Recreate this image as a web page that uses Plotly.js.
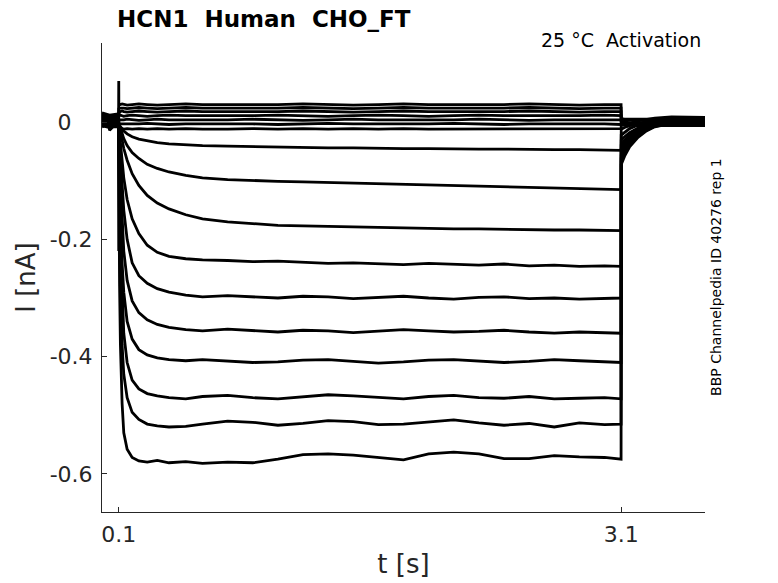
<!DOCTYPE html>
<html><head><meta charset="utf-8">
<script src="https://cdn.plot.ly/plotly-3.0.1.min.js"></script>
<style>html,body{margin:0;padding:0;background:#fff}</style>
</head><body><div id="chart" style="width:778px;height:583px"></div>
<script>
// time points (s)
const t = [0, 0.04, 0.045, 0.099, 0.1, 0.1005, 0.105, 0.11, 0.12, 0.13, 0.15, 0.18, 0.22, 0.27, 0.33, 0.4, 0.5, 0.6, 0.75, 0.9, 1.05, 1.2, 1.35, 1.5, 1.65, 1.8, 1.95, 2.1, 2.25, 2.4, 2.55, 2.7, 2.85, 3.0, 3.099, 3.1, 3.12, 3.15, 3.2, 3.25, 3.3, 3.4, 3.6];

// currents (nA), one sweep each
const tr1 = [0.003, 0.001, -0.014, 0.002,
 -0.05, -0.15, -0.28, -0.38, -0.48, -0.53,
 -0.558, -0.572, -0.578, -0.580, -0.577,
 -0.581, -0.579, -0.582, -0.580, -0.581,
 -0.575, -0.567, -0.566, -0.568, -0.572,
 -0.576, -0.566, -0.563, -0.566, -0.574,
 -0.574, -0.569, -0.571, -0.572, -0.575,
 -0.072, -0.058, -0.042, -0.026, -0.015,
 -0.008, -0.002, 0.001];
const tr2 = [0.001, -0.002, -0.004, 0.0,
 -0.03, -0.1, -0.2, -0.28, -0.38, -0.43,
 -0.47, -0.495, -0.507, -0.515, -0.518,
 -0.520, -0.519, -0.515, -0.510, -0.512,
 -0.517, -0.514, -0.509, -0.511, -0.516,
 -0.515, -0.512, -0.508, -0.513, -0.517,
 -0.514, -0.520, -0.513, -0.516, -0.515,
 -0.066, -0.053, -0.039, -0.024, -0.014,
 -0.007, -0.002, 0.0];
const tr3 = [-0.002, 0.003, 0.0, -0.003,
 -0.02, -0.07, -0.13, -0.2, -0.3, -0.36,
 -0.41, -0.44, -0.455, -0.463, -0.467,
 -0.470, -0.472, -0.468, -0.466, -0.470,
 -0.472, -0.468, -0.465, -0.467, -0.470,
 -0.472, -0.468, -0.466, -0.470, -0.471,
 -0.468, -0.472, -0.471, -0.470, -0.472,
 -0.061, -0.049, -0.036, -0.022, -0.013,
 -0.006, -0.001, 0.002];
const tr4 = [0.004, 0.0, -0.002, 0.002,
 -0.015, -0.05, -0.09, -0.15, -0.24, -0.29,
 -0.34, -0.37, -0.388, -0.397, -0.402,
 -0.405, -0.407, -0.405, -0.408, -0.410,
 -0.409, -0.406, -0.405, -0.408, -0.411,
 -0.409, -0.406, -0.405, -0.408, -0.410,
 -0.408, -0.405, -0.407, -0.409, -0.410,
 -0.056, -0.045, -0.033, -0.020, -0.011,
 -0.005, 0.0, -0.001];
const tr5 = [-0.004, 0.002, -0.003, 0.001,
 -0.01, -0.03, -0.06, -0.1, -0.17, -0.22,
 -0.27, -0.305, -0.325, -0.337, -0.345,
 -0.350, -0.354, -0.356, -0.353, -0.356,
 -0.358, -0.355, -0.356, -0.359, -0.357,
 -0.354, -0.356, -0.358, -0.357, -0.355,
 -0.358, -0.360, -0.358, -0.359, -0.360,
 -0.051, -0.041, -0.030, -0.018, -0.010,
 -0.004, 0.001, 0.003];
const tr6 = [0.006, -0.001, 0.001, 0.004,
 -0.008, -0.02, -0.035, -0.06, -0.11, -0.15,
 -0.20, -0.24, -0.262, -0.275, -0.284,
 -0.290, -0.295, -0.298, -0.296, -0.298,
 -0.300, -0.297, -0.298, -0.301, -0.299,
 -0.297, -0.300, -0.302, -0.299, -0.298,
 -0.301, -0.300, -0.302, -0.301, -0.300,
 -0.045, -0.036, -0.026, -0.015, -0.008,
 -0.003, 0.002, 0.001];
const tr7 = [-0.006, 0.001, -0.002, -0.004,
 -0.005, -0.01, -0.015, -0.035, -0.07, -0.095,
 -0.132, -0.165, -0.19, -0.21, -0.222,
 -0.229, -0.233, -0.235, -0.236, -0.238,
 -0.237, -0.239, -0.241, -0.240, -0.242,
 -0.243, -0.241, -0.243, -0.244, -0.242,
 -0.245, -0.244, -0.246, -0.245, -0.246,
 -0.039, -0.031, -0.022, -0.013, -0.006,
 -0.002, 0.003, 0.0];
const tr8 = [0.008, 0.004, 0.002, 0.006,
 -0.003, -0.005, -0.008, -0.015, -0.03, -0.045,
 -0.065, -0.088, -0.108, -0.125, -0.138,
 -0.148, -0.158, -0.165, -0.170, -0.173,
 -0.176, -0.177, -0.178, -0.179, -0.180,
 -0.180, -0.181, -0.182, -0.182, -0.183,
 -0.183, -0.184, -0.184, -0.185, -0.185,
 -0.031, -0.025, -0.018, -0.010, -0.004,
 0.0, 0.004, 0.002];
const tr9 = [-0.008, -0.004, -0.005, -0.006,
 -0.002, -0.004, -0.006, -0.01, -0.02, -0.028,
 -0.04, -0.052, -0.062, -0.072, -0.079,
 -0.085, -0.091, -0.095, -0.098, -0.100,
 -0.101, -0.102, -0.103, -0.104, -0.105,
 -0.106, -0.107, -0.108, -0.109, -0.110,
 -0.111, -0.112, -0.113, -0.114, -0.115,
 -0.022, -0.017, -0.011, -0.005, -0.001,
 0.002, 0.005, 0.004];
const tr10 = [0.010, 0.006, 0.005, 0.008,
 -0.22, -0.004, -0.006, -0.008, -0.012, -0.015,
 -0.020, -0.025, -0.029, -0.032, -0.035,
 -0.037, -0.039, -0.040, -0.041, -0.042,
 -0.043, -0.043, -0.044, -0.044, -0.045,
 -0.045, -0.045, -0.046, -0.046, -0.046,
 -0.047, -0.047, -0.047, -0.047, -0.048,
 -0.012, -0.009, -0.006, -0.002, 0.001,
 0.004, 0.007, 0.006];
const tr11 = [0.012, 0.008, 0.007, 0.010,
 -0.006, -0.009, -0.010, -0.011, -0.011, -0.012,
 -0.011, -0.012, -0.011, -0.012, -0.011,
 -0.012, -0.011, -0.012, -0.012, -0.011,
 -0.012, -0.011, -0.012, -0.011, -0.012,
 -0.011, -0.012, -0.012, -0.011, -0.012,
 -0.011, -0.012, -0.011, -0.012, -0.011,
 -0.006, -0.004, -0.002, 0.002, 0.005,
 0.007, 0.009, 0.008];
const tr12 = [0.014, 0.011, 0.010, 0.012,
 0.0, -0.002, -0.003, -0.003, -0.004, -0.003,
 -0.003, -0.004, -0.003, -0.002, -0.003,
 -0.004, -0.003, -0.003, -0.002, -0.003,
 -0.004, -0.003, -0.002, -0.003, -0.003,
 -0.004, -0.003, -0.002, -0.003, -0.004,
 -0.003, -0.003, -0.002, -0.003, -0.004,
 -0.004, -0.005, -0.005, -0.006, -0.006,
 -0.006, -0.006, -0.006];
const tr13 = [-0.006, -0.009, -0.008, -0.008,
 0.003, 0.004, 0.004, 0.004, 0.003, 0.004,
 0.005, 0.004, 0.003, 0.004, 0.005,
 0.004, 0.004, 0.003, 0.004, 0.005,
 0.004, 0.003, 0.004, 0.005, 0.004,
 0.004, 0.003, 0.004, 0.005, 0.004,
 0.003, 0.004, 0.004, 0.005, 0.004,
 -0.002, -0.003, -0.003, -0.003, -0.003,
 -0.003, -0.003, -0.003];
const tr14 = [0.016, 0.013, 0.012, 0.014,
 0.009, 0.011, 0.011, 0.012, 0.011, 0.010,
 0.011, 0.012, 0.011, 0.010, 0.011,
 0.012, 0.011, 0.011, 0.010, 0.011,
 0.012, 0.011, 0.010, 0.011, 0.012,
 0.011, 0.010, 0.011, 0.012, 0.011,
 0.011, 0.010, 0.011, 0.012, 0.011,
 0.006, 0.005, 0.005, 0.005, 0.005,
 0.005, 0.005, 0.005];
const tr15 = [0.0, -0.003, -0.002, -0.002,
 0.014, 0.017, 0.018, 0.018, 0.019, 0.018,
 0.017, 0.018, 0.019, 0.018, 0.017,
 0.018, 0.019, 0.018, 0.018, 0.017,
 0.018, 0.019, 0.018, 0.017, 0.018,
 0.019, 0.018, 0.018, 0.017, 0.018,
 0.019, 0.018, 0.017, 0.018, 0.018,
 0.002, 0.0, -0.001, -0.002, -0.002,
 -0.002, -0.002, -0.002];
const tr16 = [0.008, 0.005, 0.004, 0.006,
 0.020, 0.023, 0.024, 0.024, 0.025, 0.024,
 0.023, 0.024, 0.025, 0.024, 0.023,
 0.024, 0.025, 0.024, 0.024, 0.023,
 0.024, 0.025, 0.024, 0.023, 0.024,
 0.025, 0.024, 0.024, 0.023, 0.024,
 0.025, 0.024, 0.023, 0.024, 0.024,
 0.006, 0.004, 0.003, 0.003, 0.003,
 0.003, 0.003, 0.003];
const tr17 = [0.005, 0.002, 0.001, 0.003,
 0.07, 0.032, 0.031, 0.030, 0.031, 0.030,
 0.029, 0.030, 0.031, 0.030, 0.029,
 0.030, 0.031, 0.030, 0.030, 0.029,
 0.030, 0.031, 0.030, 0.029, 0.030,
 0.031, 0.030, 0.030, 0.029, 0.030,
 0.031, 0.030, 0.029, 0.030, 0.030,
 0.0, -0.003, -0.004, -0.005, -0.005,
 -0.005, -0.005, -0.005];

const sweeps = [tr1, tr2, tr3, tr4, tr5, tr6, tr7, tr8, tr9, tr10, tr11, tr12, tr13, tr14, tr15, tr16, tr17];

const xTickVals = [0.1, 3.1];
const xTickText = ['0.1', '3.1'];
const yTickVals = [0, -0.2, -0.4, -0.6];
const yTickText = ['0\u00a0\u00a0\u00a0', '-0.2', '-0.4', '-0.6'];

const titleText = 'HCN1\u00a0\u00a0Human\u00a0\u00a0CHO_FT';
const condText = '25 \u00b0C\u00a0\u00a0Activation';
const idText = 'BBP Channelpedia ID 40276 rep 1';

const axisColor = '#262626';
const data = sweeps.map(v => ({
  x: t, y: v, type: 'scatter', mode: 'lines',
  line: {color: '#000000', width: 2.8},
  hoverinfo: 'skip', showlegend: false
}));

const layout = {
  width: 778, height: 583,
  margin: {l: 102, r: 73, t: 43, b: 71},
  paper_bgcolor: '#ffffff', plot_bgcolor: '#ffffff',
  font: {family: 'DejaVu Sans', color: axisColor},
  showlegend: false,
  xaxis: {
    range: [0, 3.6], tickmode: 'array', tickvals: xTickVals, ticktext: xTickText,
    ticks: 'inside', ticklen: 5, tickwidth: 1, tickcolor: axisColor,
    showline: true, linecolor: axisColor, linewidth: 1,
    showgrid: false, zeroline: false, automargin: false,
    tickfont: {family: 'DejaVu Sans', size: 22, color: axisColor},
    ticklabelstandoff: 3,
    title: {text: 't [s]', font: {family: 'DejaVu Sans', size: 26, color: axisColor}, standoff: 8}
  },
  yaxis: {
    range: [-0.665, 0.135], tickmode: 'array', tickvals: yTickVals, ticktext: yTickText,
    ticks: 'inside', ticklen: 5, tickwidth: 1, tickcolor: axisColor,
    showline: true, linecolor: axisColor, linewidth: 1,
    showgrid: false, zeroline: false, automargin: false,
    tickfont: {family: 'DejaVu Sans', size: 22, color: axisColor},
    ticklabelstandoff: 4,
    title: {text: 'I [nA]', font: {family: 'DejaVu Sans', size: 26, color: axisColor}, standoff: 6}
  },
  annotations: [
    {text: '<b>' + titleText + '</b>', xref: 'paper', yref: 'paper', x: 0.0216, y: 1.052,
     xanchor: 'left', yanchor: 'middle', showarrow: false,
     font: {family: 'DejaVu Sans', size: 23, color: '#000000'}},
    {text: condText, xref: 'paper', yref: 'paper', x: 0.9967, y: 1.0064,
     xanchor: 'right', yanchor: 'middle', showarrow: false,
     font: {family: 'DejaVu Sans', size: 19, color: '#000000'}},
    {text: idText, xref: 'paper', yref: 'paper', x: 1.018, y: 0.501,
     xanchor: 'center', yanchor: 'middle', textangle: -90, showarrow: false,
     font: {family: 'DejaVu Sans', size: 14, color: '#000000'}}
  ]
};

Plotly.newPlot('chart', data, layout, {staticPlot: true, displayModeBar: false});
</script>
</body></html>
